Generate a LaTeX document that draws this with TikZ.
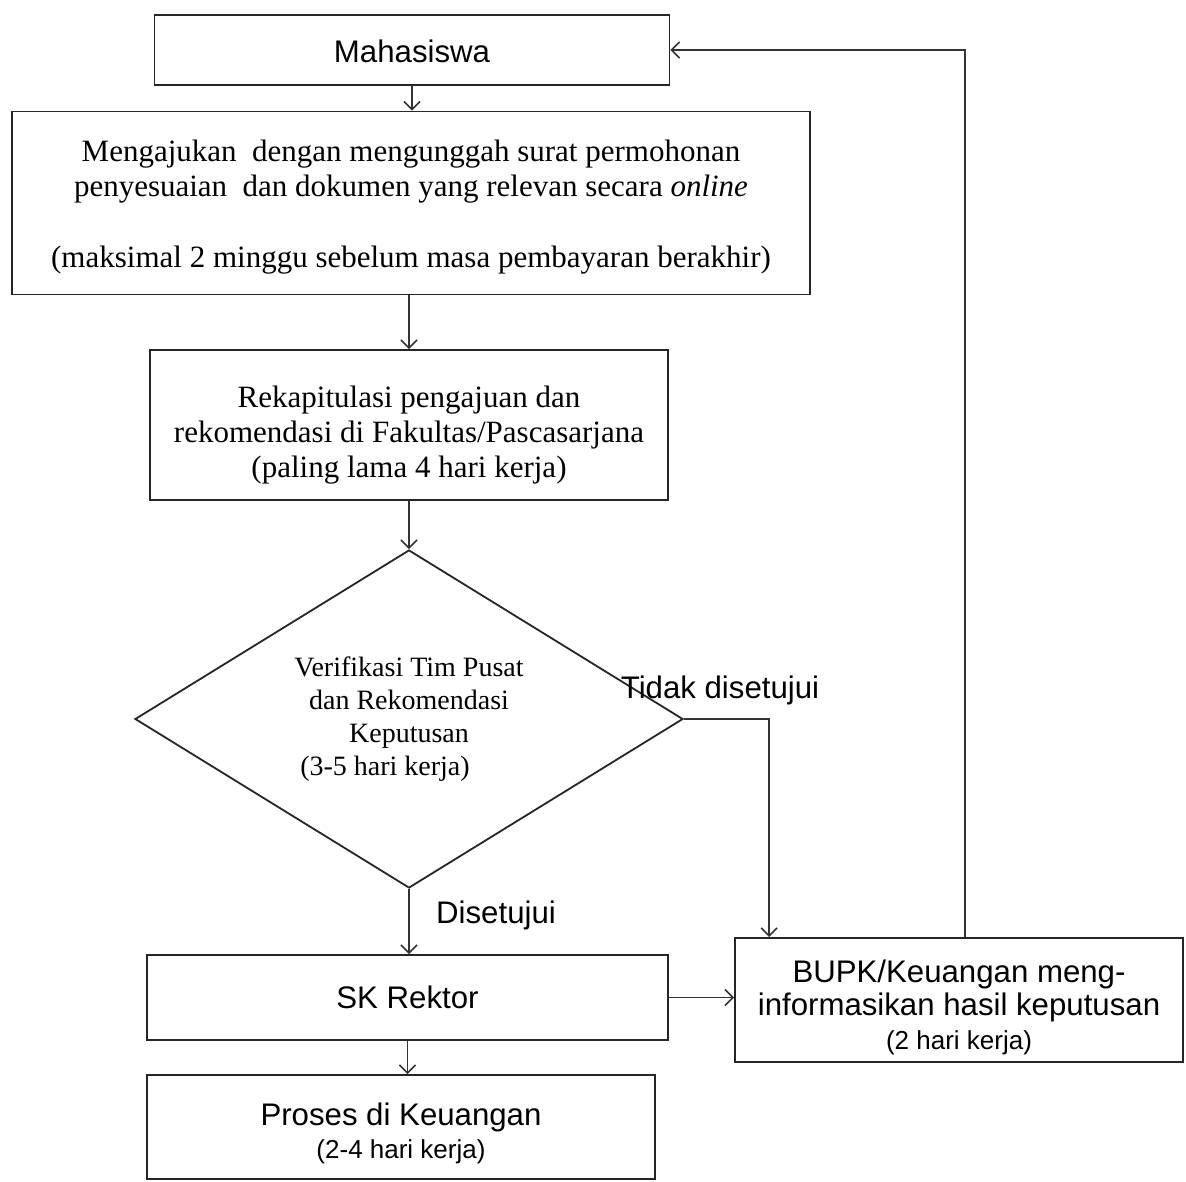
\documentclass[tikz,border=0pt]{standalone}
\usepackage{fontspec}
\setmainfont{Liberation Serif}
\setsansfont{Liberation Sans}
\usetikzlibrary{arrows.meta,shapes.geometric,calc}
\begin{document}
\begin{tikzpicture}[x=0.5pt,y=-0.5pt,
  box/.style={draw=black!85, line width=0.9pt, inner sep=2pt, align=center},
  sansbig/.style={font=\sffamily\fontsize{15.6}{16.8}\selectfont},
  serifbig/.style={font=\fontsize{15.5}{17.4}\selectfont},
  arr/.style={draw=black!80, line width=0.8pt, -{Straight Barb[length=4pt,width=8pt]}}]
\useasboundingbox (0,0) rectangle (1186,1181);
\fill[white] (0,0) rectangle (1186,1181);

\node[box,sansbig,minimum width=257.5pt,minimum height=35pt] (m) at (412,50) {\rule{0pt}{13pt}Mahasiswa};
\node[box,serifbig,minimum width=399pt,minimum height=91.5pt] (a) at (411,203)
  {\rule{0pt}{15.1pt}Mengajukan\ \ dengan mengunggah surat permohonan\\
   penyesuaian\ \ dan dokumen yang relevan secara \textit{online}\\[18pt]
   (maksimal 2 minggu sebelum masa pembayaran berakhir)};
\node[box,serifbig,minimum width=259pt,minimum height=75pt] (r) at (409,425)
  {\rule{0pt}{21pt}Rekapitulasi pengajuan dan\\ rekomendasi di Fakultas/Pascasarjana\\ (paling lama 4 hari kerja)};
\node[diamond, draw=black!85, line width=0.9pt, aspect=1.62, minimum width=274pt, minimum height=169pt,
  inner sep=0pt, align=center, font=\fontsize{14}{16.5}\selectfont] (d) at (409,719)
  {Verifikasi Tim Pusat\\ dan Rekomendasi\\ Keputusan\\ (3-5 hari kerja)\hspace*{24pt}};
\node[sansbig, inner sep=0pt] (tl) at (720,690) {Tidak disetujui};
\node[sansbig, inner sep=0pt] (dl) at (496,915) {Disetujui};
\node[box,sansbig,minimum width=260.5pt,minimum height=42.5pt] (s) at (407.5,997.5) {SK Rektor};
\node[box,sansbig,minimum width=224pt,minimum height=62pt] (b) at (959,1000)
  {\rule{0pt}{18.4pt}BUPK/Keuangan meng-\\ informasikan hasil keputusan\\ {\fontsize{13}{16}\selectfont (2 hari kerja)}};
\node[box,sansbig,minimum width=254pt,minimum height=52pt] (p) at (401,1127)
  {\rule{0pt}{17.7pt}Proses di Keuangan\\ {\fontsize{13}{16}\selectfont (2-4 hari kerja)}};

\draw[arr] (m.south) -- (m.south |- a.north);
\draw[arr] (r.north |- a.south) -- (r.north);
\draw[arr] (r.south) -- (d.north);
\draw[arr] (d.south) -- (d.south |- s.north);
\draw[arr] (d.east) -| ($(b.north west)+(35,0)$);
\draw[arr] (s.east) -- (s.east -| b.west);
\draw[arr] ($(b.north)+(6,0)$) |- (m.east);
\draw[arr] (s.south) -- (s.south |- p.north);
\end{tikzpicture}
\end{document}
